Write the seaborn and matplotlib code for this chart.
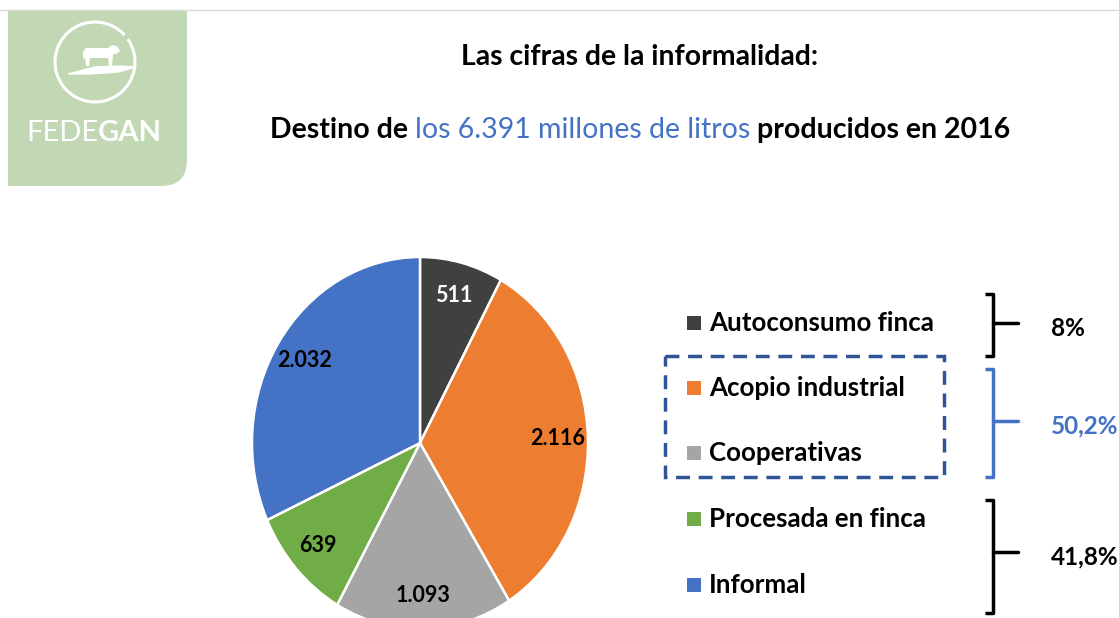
import numpy as np
import matplotlib
matplotlib.use("Agg")
import matplotlib.pyplot as plt
import seaborn as sns
from matplotlib.patches import Rectangle, PathPatch, Arc, Polygon
from matplotlib.path import Path
from matplotlib.offsetbox import TextArea, HPacker, AnnotationBbox

sns.set_style("white")
plt.rcParams['font.family'] = ['Lato', 'DejaVu Sans']

# data (millones de litros, 2016)
categorias = ["Autoconsumo finca", "Acopio industrial", "Cooperativas",
              "Procesada en finca", "Informal"]
litros = [511, 2116, 1093, 639, 2032]
colores = ["#404040", "#ED7D31", "#A5A5A5", "#70AD47", "#4472C4"]
color_etiqueta = ["white", "black", "black", "black", "black"]
grupos_pct = ["8%", "50,2%", "41,8%"]
grupos_color = ["black", "#4472C4", "black"]
grupos_filas = [(0, 0), (1, 2), (3, 4)]  # first/last legend row in each group

W, H = 1119, 618
fig = plt.figure(figsize=(W / 100, H / 100), dpi=100)
fig.patch.set_facecolor("white")

# overlay axes in pixel coordinates (y down)
ov = fig.add_axes([0, 0, 1, 1])
ov.set_xlim(0, W)
ov.set_ylim(H, 0)
ov.axis("off")

# slide top line
ov.plot([0, W], [10, 10], color="#d9d9d9", lw=1)

# ---- logo ----
verde = "#C2D7B3"
r = 26
verts = [(8, 10), (187, 10), (187, 186 - r), (187, 186), (187 - r, 186), (8, 186), (8, 10)]
codes = [Path.MOVETO, Path.LINETO, Path.LINETO, Path.CURVE3, Path.CURVE3, Path.LINETO, Path.CLOSEPOLY]
ov.add_patch(PathPatch(Path(verts, codes), facecolor=verde, edgecolor="none"))
ov.add_patch(Arc((95, 62), 80, 80, theta1=-35, theta2=318, color="white", lw=2.2))
ov.add_patch(Polygon([(68, 74), (95, 67), (120, 66), (136, 67), (118, 72), (90, 74)],
                     closed=True, facecolor="white", edgecolor="white"))
cow = [(83, 52), (86, 48), (108, 48), (112, 45), (117, 46), (120, 51), (116, 54),
       (113, 54), (112, 66), (109, 66), (108, 58), (90, 58), (89, 66), (86, 66),
       (85, 57), (83, 60)]
ov.add_patch(Polygon(cow, closed=True, facecolor="white", edgecolor="none"))
logo = HPacker(children=[
    TextArea("FEDE", textprops=dict(color="white", fontsize=21, fontweight="normal")),
    TextArea("GAN", textprops=dict(color="white", fontsize=21, fontweight="bold"))],
    sep=0, align="baseline", pad=0)
ov.add_artist(AnnotationBbox(logo, (94, 133), xycoords="data", frameon=False,
                             box_alignment=(0.5, 0.5)))

# ---- titles ----
ov.text(640, 57, "Las cifras de la informalidad:", ha="center", va="center",
        fontsize=20.4, fontweight="bold", color="black")
linea = HPacker(children=[
    TextArea("Destino de ", textprops=dict(color="black", fontsize=20.5, fontweight="bold")),
    TextArea("los 6.391 millones de litros ", textprops=dict(color="#4472C4", fontsize=20.5)),
    TextArea("producidos en 2016", textprops=dict(color="black", fontsize=20.5, fontweight="bold"))],
    sep=0, align="baseline", pad=0)
ov.add_artist(AnnotationBbox(linea, (640, 130), xycoords="data", frameon=False,
                             box_alignment=(0.5, 0.5)))

# ---- pie (slightly elliptical as in the slide) ----
cx, cy, rx, ry = 420, 443, 168, 186
ax = fig.add_axes([(cx - rx) / W, (H - cy - ry) / H, 2 * rx / W, 2 * ry / H])
etiquetas = [f"{v:,}".replace(",", ".") for v in litros]
wedges, textos = ax.pie(litros, colors=colores, startangle=90, counterclock=False,
                        labels=etiquetas, labeldistance=0.82,
                        wedgeprops=dict(edgecolor="white", linewidth=1.8, clip_on=False),
                        textprops=dict(fontsize=15.5, fontweight="bold", ha="center", va="center"))
for t, c in zip(textos, color_etiqueta):
    t.set_color(c)
    t.set_horizontalalignment("center")
ax.set_aspect("auto")
ax.set_xlim(-1, 1)
ax.set_ylim(-1, 1)
ax.axis("off")

# ---- legend ----
fila_y = [323, 388, 453, 519, 585]
for nombre, col, y in zip(categorias, colores, fila_y):
    ov.add_patch(Rectangle((687, y - 7), 14, 14, facecolor=col, edgecolor="none"))
    ov.text(709, y, nombre, ha="left", va="center", fontsize=18.6, fontweight="bold",
            color="black")

# dashed box around the formal industry rows
ov.add_patch(Rectangle((665, 356), 279, 121, facecolor="none", edgecolor="#2F5597",
                       lw=2.5, linestyle=(0, (4, 2.5))))

# brackets and group percentages
limites = [(294, 356), (369, 477), (500, 613)]
for (a, b), (y0, y1), txt, col in zip(grupos_filas, limites, grupos_pct, grupos_color):
    xm = 993
    ov.plot([985, xm, xm, 985], [y0, y0, y1, y1], color=col, lw=2.5,
            solid_joinstyle="round", solid_capstyle="butt")
    ym = (fila_y[a] + fila_y[b]) / 2
    ov.plot([xm, 1018], [ym, ym], color=col, lw=2.5)
    ov.text(1051, ym + 5, txt, ha="left", va="center", fontsize=17.5,
            fontweight="bold", color=col)

fig.savefig("out.png", dpi=100)
